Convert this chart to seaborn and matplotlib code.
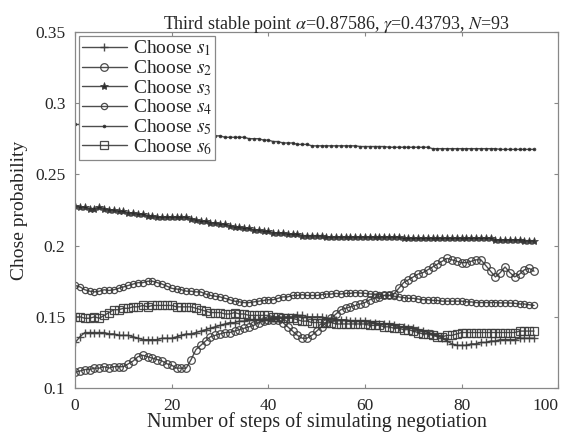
import matplotlib
matplotlib.use("Agg")
import matplotlib.pyplot as plt
import seaborn as sns
import numpy as np
import pandas as pd

# steps of the simulated negotiation
steps = list(range(96))

s1 = [0.132,0.136,0.139,0.139,0.139,0.139,0.139,0.138,0.138,0.137,
      0.137,0.137,0.136,0.135,0.134,0.134,0.134,0.134,0.135,0.135,
      0.135,0.136,0.137,0.138,0.138,0.139,0.140,0.141,0.142,0.143,
      0.144,0.145,0.146,0.146,0.147,0.147,0.148,0.148,0.148,0.148,
      0.148,0.149,0.149,0.150,0.150,0.150,0.151,0.151,0.150,0.150,
      0.150,0.150,0.149,0.149,0.148,0.148,0.148,0.147,0.147,0.147,
      0.147,0.146,0.146,0.145,0.145,0.145,0.144,0.143,0.143,0.142,
      0.142,0.141,0.140,0.139,0.138,0.137,0.135,0.133,0.131,0.130,
      0.130,0.130,0.131,0.131,0.132,0.132,0.133,0.133,0.134,0.134,
      0.134,0.134,0.135,0.135,0.135,0.135]

s2 = [0.111,0.112,0.113,0.113,0.114,0.114,0.115,0.114,0.115,0.115,
      0.115,0.117,0.119,0.122,0.123,0.122,0.121,0.120,0.119,0.117,
      0.116,0.114,0.114,0.114,0.120,0.127,0.130,0.133,0.136,0.137,
      0.138,0.139,0.139,0.140,0.141,0.142,0.143,0.144,0.146,0.147,
      0.148,0.148,0.148,0.146,0.143,0.140,0.137,0.135,0.135,0.137,
      0.140,0.143,0.146,0.149,0.152,0.155,0.156,0.157,0.158,0.159,
      0.160,0.162,0.163,0.164,0.165,0.165,0.166,0.170,0.174,0.176,
      0.178,0.180,0.181,0.183,0.185,0.187,0.189,0.191,0.190,0.189,
      0.188,0.188,0.189,0.190,0.190,0.186,0.182,0.178,0.181,0.185,
      0.181,0.178,0.180,0.183,0.184,0.182]

s3 = [0.228,0.227,0.227,0.226,0.226,0.227,0.226,0.225,0.225,0.224,
      0.224,0.223,0.223,0.222,0.222,0.221,0.221,0.220,0.220,0.220,
      0.220,0.220,0.220,0.220,0.219,0.218,0.217,0.217,0.216,0.216,
      0.215,0.215,0.214,0.213,0.213,0.212,0.212,0.211,0.211,0.210,
      0.210,0.209,0.209,0.209,0.208,0.208,0.208,0.207,0.207,0.207,
      0.207,0.207,0.206,0.206,0.206,0.206,0.206,0.206,0.206,0.206,
      0.206,0.206,0.206,0.206,0.206,0.206,0.206,0.206,0.205,0.205,
      0.205,0.205,0.205,0.205,0.205,0.205,0.205,0.205,0.205,0.205,
      0.205,0.205,0.205,0.205,0.205,0.205,0.205,0.204,0.204,0.204,
      0.204,0.204,0.204,0.2035,0.2035,0.2035]

s4 = [0.172,0.171,0.169,0.168,0.1675,0.168,0.169,0.1685,0.169,0.170,
      0.171,0.172,0.173,0.174,0.174,0.175,0.175,0.174,0.173,0.1715,
      0.170,0.1695,0.169,0.168,0.168,0.1675,0.1675,0.166,0.165,0.1645,
      0.164,0.163,0.162,0.161,0.1605,0.160,0.160,0.1605,0.161,0.1615,
      0.162,0.162,0.163,0.164,0.164,0.165,0.165,0.1655,0.165,0.165,
      0.165,0.1655,0.166,0.166,0.1665,0.166,0.1665,0.1665,0.167,0.1667,
      0.1665,0.166,0.166,0.1655,0.165,0.165,0.1645,0.164,0.1635,0.163,
      0.163,0.1625,0.162,0.162,0.1615,0.1615,0.161,0.161,0.161,0.161,
      0.161,0.1605,0.1605,0.160,0.160,0.160,0.160,0.160,0.1598,0.1598,
      0.1597,0.1595,0.159,0.159,0.1585,0.158]

s5 = [0.285,0.285,0.284,0.284,0.284,0.283,0.283,0.283,0.282,0.282,
      0.282,0.281,0.281,0.281,0.280,0.280,0.280,0.280,0.279,0.279,
      0.279,0.279,0.278,0.278,0.278,0.278,0.277,0.277,0.277,0.277,
      0.277,0.276,0.276,0.276,0.276,0.276,0.275,0.275,0.275,0.274,
      0.274,0.273,0.273,0.272,0.272,0.272,0.271,0.271,0.271,0.270,
      0.270,0.270,0.270,0.270,0.270,0.270,0.270,0.270,0.270,0.2695,
      0.2695,0.2695,0.2695,0.2695,0.2695,0.269,0.269,0.269,0.269,0.269,
      0.269,0.269,0.269,0.269,0.268,0.268,0.268,0.268,0.268,0.268,
      0.268,0.268,0.268,0.268,0.268,0.268,0.268,0.268,0.2675,0.2675,
      0.2675,0.2675,0.2675,0.2675,0.2675,0.2675]

s6 = [0.150,0.150,0.149,0.149,0.150,0.149,0.151,0.153,0.155,0.155,
      0.156,0.156,0.157,0.157,0.158,0.157,0.158,0.158,0.158,0.158,
      0.158,0.157,0.157,0.157,0.157,0.156,0.155,0.154,0.153,0.153,
      0.153,0.152,0.152,0.153,0.152,0.152,0.151,0.151,0.151,0.151,
      0.151,0.150,0.150,0.149,0.149,0.149,0.148,0.147,0.147,0.146,
      0.146,0.146,0.1457,0.146,0.145,0.145,0.145,0.145,0.145,0.145,
      0.145,0.144,0.144,0.144,0.143,0.143,0.142,0.142,0.141,0.141,
      0.140,0.139,0.138,0.138,0.137,0.136,0.136,0.137,0.137,0.138,
      0.139,0.139,0.139,0.139,0.139,0.139,0.139,0.139,0.139,0.139,
      0.139,0.139,0.140,0.140,0.140,0.140]

labels = [r"Choose $s_1$", r"Choose $s_2$", r"Choose $s_3$",
          r"Choose $s_4$", r"Choose $s_5$", r"Choose $s_6$"]
series = [s1, s2, s3, s4, s5, s6]

sns.set_style("ticks")
plt.rcParams['font.family'] = ['Liberation Serif', 'DejaVu Serif']
plt.rcParams['mathtext.fontset'] = 'stix'

# marker style for each series (MATLAB-ish grayscale)
styles = [dict(marker='+', ms=6, mfc='none', mew=1.0),
          dict(marker='o', ms=5.5, mfc='none', mew=0.9),
          dict(marker='*', ms=6, mfc='#222222', mew=0.6),
          dict(marker='o', ms=4.5, mfc='none', mew=0.9),
          dict(marker='.', ms=4, mfc='#222222', mew=0.6),
          dict(marker='s', ms=5.5, mfc='none', mew=0.9)]

fig = plt.figure(figsize=(5.61, 4.42), dpi=100)
ax = fig.add_axes([0.134, 0.122, 0.861, 0.806])

for vals, lab, st in zip(series, labels, styles):
    df = pd.DataFrame({'step': steps, 'p': vals})
    sns.lineplot(data=df, x='step', y='p', ax=ax, color='#3a3a3a', lw=1.0,
                 label=lab, marker=st['marker'], markersize=st['ms'],
                 markerfacecolor=st['mfc'], markeredgewidth=st['mew'],
                 markeredgecolor='#3a3a3a', alpha=0.9)

ax.set_xlim(0, 100)
ax.set_ylim(0.1, 0.35)
ax.set_xticks([0, 20, 40, 60, 80, 100])
ax.set_yticks([0.1, 0.15, 0.2, 0.25, 0.3, 0.35])
ax.set_yticklabels(['0.1', '0.15', '0.2', '0.25', '0.3', '0.35'])
ax.tick_params(direction='in', length=3, width=0.8, color='#888888',
               labelsize=12.5, top=True, right=True, pad=7)
ax.get_xticklabels()[-1].set_horizontalalignment('right')
for sp in ax.spines.values():
    sp.set_color('#888888')
    sp.set_linewidth(0.9)

ax.set_xlabel('Number of steps of simulating negotiation', fontsize=14.5, labelpad=-1)
ax.set_ylabel('Chose probability', fontsize=14, labelpad=5)
ax.set_title(r"Third stable point $\alpha$=0.87586, $\gamma$=0.43793, $N$=93",
             fontsize=13, pad=2, x=0.54)

leg = ax.legend(loc='upper left', fontsize=14, frameon=True, fancybox=False,
                labelspacing=0.0, handlelength=2.3, handletextpad=0.3,
                borderpad=0.15, borderaxespad=0.2, framealpha=1)
leg.get_frame().set_edgecolor('#888888')
leg.get_frame().set_linewidth(0.9)

fig.savefig('out.png', dpi=100)
